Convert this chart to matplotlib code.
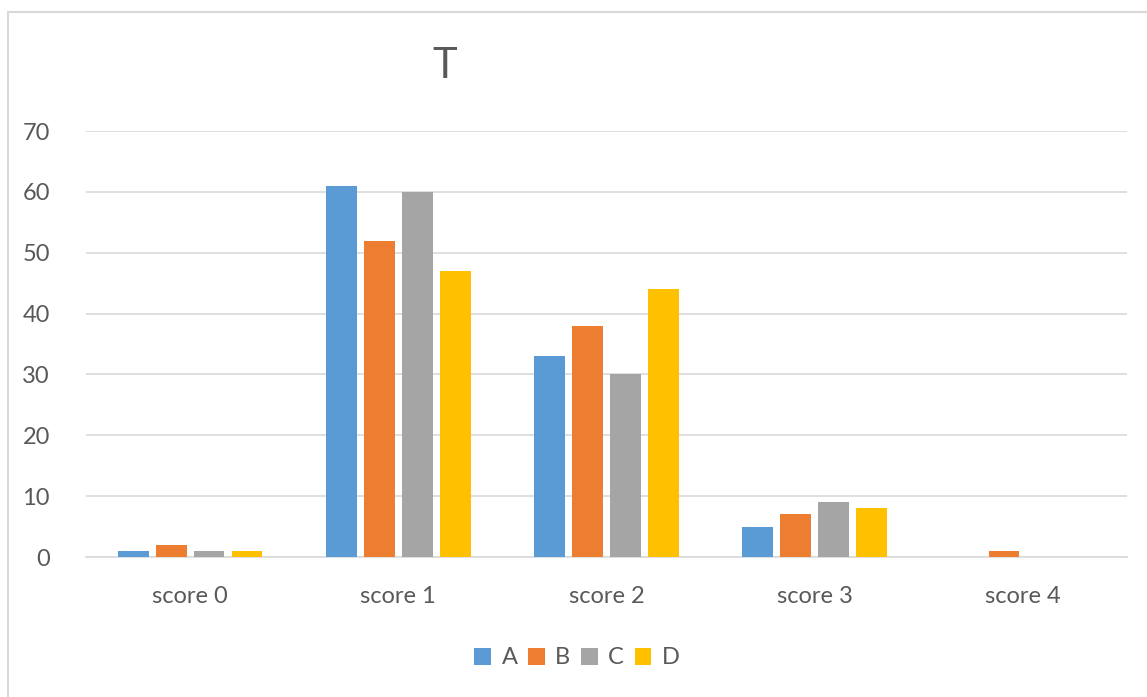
import matplotlib
matplotlib.use("Agg")
import matplotlib.pyplot as plt
import numpy as np
from matplotlib.patches import Rectangle

categories = ["score 0", "score 1", "score 2", "score 3", "score 4"]
series_names = ["A", "B", "C", "D"]
A = [1, 61, 33, 5, 0]
B = [2, 52, 38, 7, 1]
C = [1, 60, 30, 9, 0]
D = [1, 47, 44, 8, 0]
values = [A, B, C, D]
colors = ["#5B9BD5", "#ED7D31", "#A5A5A5", "#FFC000"]
yticks = [0, 10, 20, 30, 40, 50, 60, 70]

plt.rcParams['font.family'] = ['Lato', 'DejaVu Sans']
W, H = 1147, 697
fig = plt.figure(figsize=(W / 100, H / 100), dpi=100)
fig.patch.set_facecolor("white")

# outer chart border (cropped at right/bottom)
fig.patches.append(Rectangle((8 / W, -0.1), 1.2, 1 - 12 / H + 0.1,
                             transform=fig.transFigure, fill=False,
                             edgecolor="#D9D9D9", linewidth=1.5))

ax = fig.add_axes([86 / W, 1 - 557 / H, (1127 - 86) / W, (557 - 131) / H])
x = np.arange(len(categories))
bw = 0.148
pitch = 0.182
for i, (vals, c, n) in enumerate(zip(values, colors, series_names)):
    ax.bar(x + (i - 1.5) * pitch, vals, width=bw, color=c, label=n, zorder=3)

ax.set_xlim(-0.5, len(categories) - 0.5)
ax.set_ylim(0, 70)
ax.set_yticks(yticks)
ax.set_yticklabels([str(t) for t in yticks], fontsize=17, color="#595959")
ax.set_xticks(x)
ax.set_xticklabels(categories, fontsize=17, color="#595959")
ax.tick_params(axis="both", length=0)
ax.tick_params(axis="y", pad=26)
ax.tick_params(axis="x", pad=21)
ax.grid(axis="y", color="#D9D9D9", linewidth=1.2, zorder=0)
for s in ["top", "right", "left"]:
    ax.spines[s].set_visible(False)
ax.spines["bottom"].set_color("#D9D9D9")
ax.spines["bottom"].set_linewidth(1.2)

fig.text(445 / W, 1 - 66 / H, "T", fontsize=30, color="#595959",
         ha="center", va="center")

leg = fig.legend(loc="center", bbox_to_anchor=(577 / W, 1 - 658 / H),
                 ncol=4, frameon=False, fontsize=17, handlelength=0.7,
                 handleheight=0.7, handletextpad=0.45, columnspacing=0.45,
                 labelcolor="#595959")

fig.savefig("out.png", dpi=100, facecolor="white")
